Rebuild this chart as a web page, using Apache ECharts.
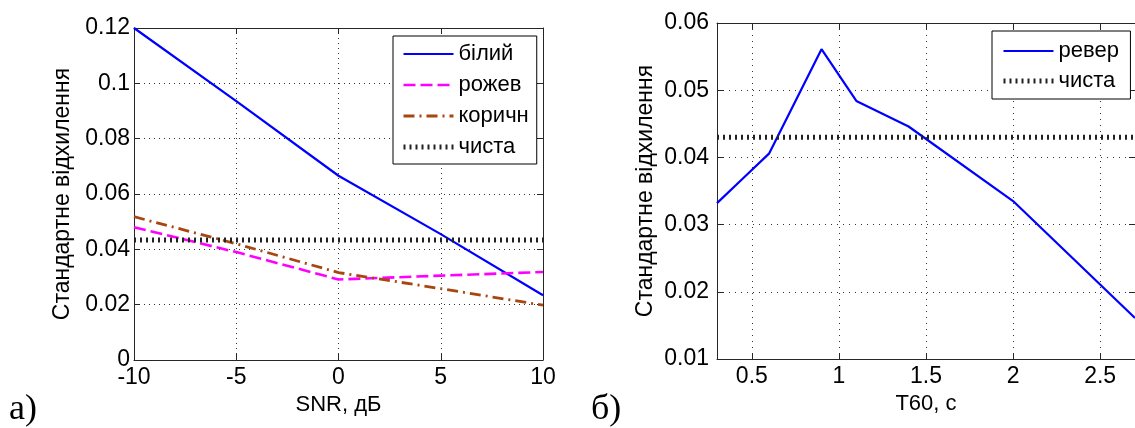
<!DOCTYPE html>
<html>
<head>
<meta charset="utf-8">
<script src="https://cdn.jsdelivr.net/npm/echarts@6/dist/echarts.min.js"></script>
<style>
  html, body { margin: 0; padding: 0; background: #fff; }
  #chart { width: 1135px; height: 428px; }
</style>
</head>
<body>
<div id="chart"></div>
<script>
// panel a) - SNR
const snrDb = [-10, -5, 0, 5, 10];
const whiteStd = [0.1200, 0.0936, 0.0666, 0.0455, 0.0234];
const pinkStd = [0.0480, 0.0390, 0.0291, 0.0305, 0.0318];
const brownStd = [0.0518, 0.0420, 0.0316, 0.0258, 0.0198];
const cleanStdA = 0.0434;
const snrRange = [-10, 10];

// panel b) - T60
const t60 = [0.3, 0.45, 0.6, 0.9, 1.1, 1.4, 2.0, 2.7];
const reverbStd = [0.0332, 0.0369, 0.0406, 0.0561, 0.0484, 0.0446, 0.0335, 0.0161];
const cleanStdB = 0.0430;
const t60Range = [0.3, 2.7];
const t60Ticks = [0.5, 1, 1.5, 2, 2.5];

const yTitle = 'Стандартне відхилення';
const font = '"Liberation Sans", Arial, sans-serif';
const axisColor = '#262626';

const zip = (xs, ys) => xs.map((x, i) => [x, ys[i]]);
const flat = (range, v) => range.map(x => [x, v]);

function mainX(opts) {
    return Object.assign({
        type: 'value',
        position: 'bottom',
        nameLocation: 'middle',
        nameGap: 30,
        nameTextStyle: { fontFamily: font, fontSize: 22, color: '#000' },
        axisLine: { show: true, onZero: false, lineStyle: { color: axisColor, width: 1 } },
        axisTick: { show: true, inside: true, length: 6, lineStyle: { color: axisColor } },
        axisLabel: { fontFamily: font, fontSize: 23, color: '#000', margin: 6 },
        splitLine: { show: true, lineStyle: { color: '#333', width: 1, type: [1, 4] } }
    }, opts);
}
function mainY(opts) {
    return Object.assign({
        type: 'value',
        position: 'left',
        name: yTitle,
        nameLocation: 'middle',
        nameGap: 60,
        nameRotate: 90,
        nameTextStyle: { fontFamily: font, fontSize: 23, color: '#000' },
        axisLine: { show: true, onZero: false, lineStyle: { color: axisColor, width: 1 } },
        axisTick: { show: true, inside: true, length: 6, lineStyle: { color: axisColor } },
        axisLabel: { fontFamily: font, fontSize: 23, color: '#000', margin: 4 },
        splitLine: { show: true, lineStyle: { color: '#333', width: 1, type: [1, 4] } }
    }, opts);
}
function boxAxis(base, opts) {
    return Object.assign({}, base, {
        name: '',
        axisLabel: { show: false },
        splitLine: { show: false }
    }, opts);
}

const xA = mainX({ gridIndex: 0, name: 'SNR, дБ', min: -10, max: 10, interval: 5 });
const yA = mainY({ gridIndex: 0, min: 0, max: 0.12, interval: 0.02 });
const xB = mainX({
    gridIndex: 1, name: 'T60, с', min: 0.3, max: 2.7,
    axisTick: { show: true, inside: true, length: 6, lineStyle: { color: axisColor }, customValues: t60Ticks },
    axisLabel: { fontFamily: font, fontSize: 23, color: '#000', margin: 6, customValues: t60Ticks },
    splitLine: { show: true, lineStyle: { color: '#333', width: 1, type: [1, 5] } }
});
const yB = mainY({
    gridIndex: 1, min: 0.01, max: 0.06, interval: 0.01,
    axisLabel: { fontFamily: font, fontSize: 23, color: '#000', margin: 8 },
    splitLine: { show: true, lineStyle: { color: '#333', width: 1, type: [1, 5] } }
});

const legendText = { fontFamily: font, fontSize: 22, color: '#000', lineHeight: 22 };
// hide the round marker ECharts adds to line legend icons
const noMarker = { opacity: 0, color: 'rgba(0,0,0,0)', borderWidth: 0 };
const legendLine = { width: 'inherit', type: 'inherit' };

const option = {
    animation: false,
    backgroundColor: '#fff',
    grid: [
        { left: 134, top: 28, width: 409, height: 332, containLabel: false },
        { left: 717, top: 23, width: 419, height: 336, containLabel: false }
    ],
    xAxis: [xA, xB, boxAxis(xA, { position: 'top' }), boxAxis(xB, { position: 'top' })],
    yAxis: [yA, yB, boxAxis(yA, { position: 'right' }), boxAxis(yB, { position: 'right' })],
    legend: [
        {
            data: ['білий', 'рожев', 'коричн', 'чиста'],
            orient: 'vertical', left: 393, top: 36,
            itemWidth: 50, itemHeight: 14, itemGap: 9,
            padding: [7, 8, 6, 8],
            backgroundColor: '#fff', borderColor: '#000', borderWidth: 1,
            itemStyle: noMarker, lineStyle: legendLine,
            textStyle: legendText, selectedMode: false
        },
        {
            data: ['ревер', 'чиста '],
            orient: 'vertical', left: 992, top: 31,
            itemWidth: 50, itemHeight: 14, itemGap: 8,
            padding: [9, 9, 7, 9],
            backgroundColor: '#fff', borderColor: '#000', borderWidth: 1,
            itemStyle: noMarker, lineStyle: legendLine,
            textStyle: legendText, selectedMode: false
        }
    ],
    graphic: [
        { type: 'text', left: 9, top: 392, style: { text: 'a)', font: '36px "Liberation Serif", serif', fill: '#000' } },
        { type: 'text', left: 591, top: 392, style: { text: 'б)', font: '36px "Liberation Serif", serif', fill: '#000' } }
    ],
    series: [
        {
            name: 'білий', type: 'line', xAxisIndex: 0, yAxisIndex: 0,
            data: zip(snrDb, whiteStd), symbol: 'none',
            lineStyle: { color: '#0000ff', width: 2.2 }, itemStyle: { color: '#0000ff' }
        },
        {
            name: 'рожев', type: 'line', xAxisIndex: 0, yAxisIndex: 0,
            data: zip(snrDb, pinkStd), symbol: 'none',
            lineStyle: { color: '#ff00ff', width: 2.6, type: [12, 5] }, itemStyle: { color: '#ff00ff' }
        },
        {
            name: 'коричн', type: 'line', xAxisIndex: 0, yAxisIndex: 0,
            data: zip(snrDb, brownStd), symbol: 'none',
            lineStyle: { color: '#a8460f', width: 2.8, type: [11, 5, 2, 5] }, itemStyle: { color: '#a8460f' }
        },
        {
            name: 'чиста', type: 'line', xAxisIndex: 0, yAxisIndex: 0,
            data: flat(snrRange, cleanStdA), symbol: 'none',
            lineStyle: { color: '#222', width: 5, type: [2, 4] }, itemStyle: { color: '#222' }
        },
        {
            name: 'ревер', type: 'line', xAxisIndex: 1, yAxisIndex: 1,
            data: zip(t60, reverbStd), symbol: 'none',
            lineStyle: { color: '#0000ff', width: 2.2 }, itemStyle: { color: '#0000ff' }
        },
        {
            name: 'чиста ', type: 'line', xAxisIndex: 1, yAxisIndex: 1,
            data: flat(t60Range, cleanStdB), symbol: 'none',
            lineStyle: { color: '#222', width: 5, type: [2, 4] }, itemStyle: { color: '#222' }
        }
    ]
};

const chart = echarts.init(document.getElementById('chart'), null, { renderer: 'canvas' });
chart.setOption(option);
</script>
</body>
</html>
